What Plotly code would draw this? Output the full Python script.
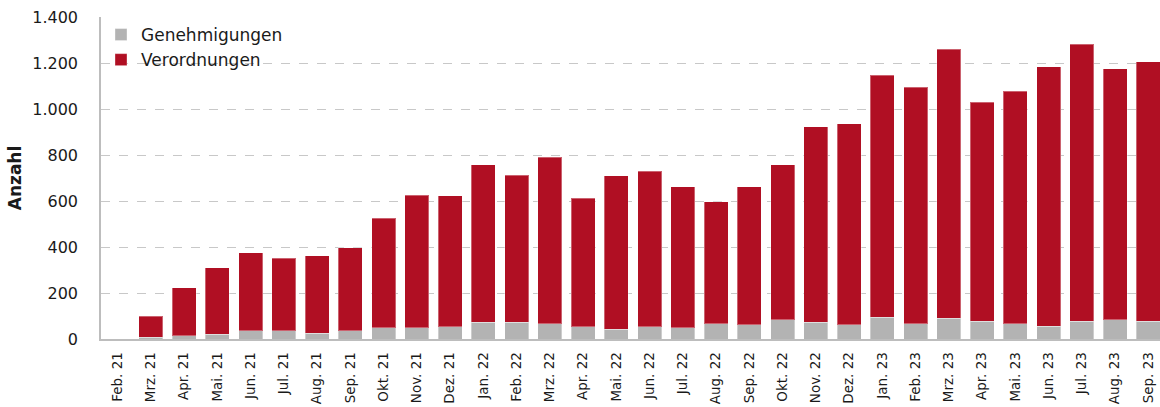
import plotly.graph_objects as go

months = ["Feb. 21", "Mrz. 21", "Apr. 21", "Mai. 21", "Jun. 21", "Jul. 21", "Aug. 21",
          "Sep. 21", "Okt. 21", "Nov. 21", "Dez. 21", "Jan. 22", "Feb. 22", "Mrz. 22",
          "Apr. 22", "Mai. 22", "Jun. 22", "Jul. 22", "Aug. 22", "Sep. 22", "Okt. 22",
          "Nov. 22", "Dez. 22", "Jan. 23", "Feb. 23", "Mrz. 23", "Apr. 23", "Mai. 23",
          "Jun. 23", "Jul. 23", "Aug. 23", "Sep. 23"]

genehmigungen = [0, 8, 14, 20, 36, 36, 26, 36, 49, 49, 53, 72, 72, 66, 53, 43,
                 53, 48, 66, 61, 84, 72, 61, 94, 66, 90, 78, 66, 55, 78, 84, 78]

verordnungen = [0, 92, 208, 289, 338, 316, 335, 360, 477, 577, 569, 685, 641, 725,
                560, 666, 677, 613, 530, 600, 673, 850, 874, 1052, 1028, 1170, 952,
                1011, 1128, 1203, 1091, 1128]

y_ticks = [0, 200, 400, 600, 800, 1000, 1200, 1400]
y_tick_text = ["0", "200", "400", "600", "800", "1.000", "1.200", "1.400"]

GREY = "#b3b3b3"
RED = "#b00f23"
FONT = "DejaVu Sans"

fig = go.Figure()
fig.add_trace(go.Bar(
    x=months, y=genehmigungen, name="Genehmigungen",
    marker=dict(color=GREY, line=dict(color="rgba(255,255,255,0.35)", width=1)),
))
fig.add_trace(go.Bar(
    x=months, y=verordnungen, name="Verordnungen",
    marker=dict(color=RED, line=dict(color="rgba(255,255,255,0.35)", width=1)),
))

fig.update_layout(
    width=1160, height=407,
    margin=dict(l=101, r=0, t=17, b=68),
    barmode="stack", bargap=0.28,
    plot_bgcolor="white", paper_bgcolor="white",
    font=dict(family=FONT, color="#1a1a1a"),
    legend=dict(
        x=0.0, y=1.0, xanchor="left", yanchor="top",
        traceorder="normal", bgcolor="rgba(0,0,0,0)",
        font=dict(size=17, family=FONT, color="#1a1a1a"),
        itemwidth=30, tracegroupgap=0,
    ),
    showlegend=True,
)

fig.update_xaxes(
    type="category", range=[-0.5, 31.35],
    tickangle=-90, tickfont=dict(size=13.5, family=FONT, color="#1a1a1a"),
    showline=True, linecolor="#bdbdbd", linewidth=1.5,
    showgrid=False, ticks="", ticklabelstandoff=6,
)

fig.update_yaxes(
    range=[0, 1400], tickvals=y_ticks, ticktext=y_tick_text,
    tickfont=dict(size=16, family=FONT, color="#1a1a1a"),
    showline=True, linecolor="#bdbdbd", linewidth=1.5,
    showgrid=True, gridcolor="#c8c8c8", griddash="dash", gridwidth=1,
    zeroline=False, ticks="", ticklabelstandoff=18,
    title=dict(text="<b>Anzahl</b>", font=dict(size=17, family=FONT, color="#1a1a1a"), standoff=6),
)

fig.write_html("out.html")
